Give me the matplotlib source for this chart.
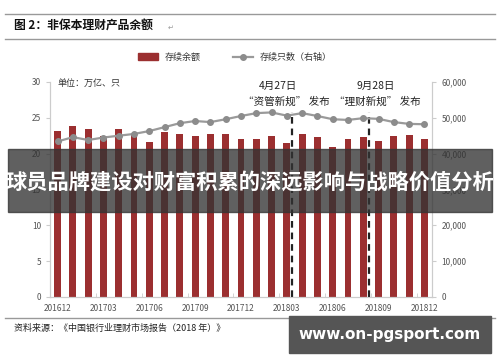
import matplotlib
matplotlib.use("Agg")
import matplotlib.pyplot as plt
from matplotlib.lines import Line2D
from matplotlib.patches import Rectangle, Patch
import numpy as np

plt.rcParams['font.family'] = ['Noto Sans CJK SC', 'DejaVu Sans']

# data
months = ['201612', '201701', '201702', '201703', '201704', '201705', '201706',
          '201707', '201708', '201709', '201710', '201711', '201712', '201801',
          '201802', '201803', '201804', '201805', '201806', '201807', '201808',
          '201809', '201810', '201811', '201812']
balance = [23.2, 23.8, 23.4, 22.4, 23.5, 22.7, 21.6, 23.0, 22.8, 22.4, 22.8, 22.7,
           22.1, 22.1, 22.5, 21.5, 22.8, 22.3, 20.9, 22.0, 22.3, 21.8, 22.4, 22.6, 22.1]
count = [43400, 44600, 43800, 44500, 45000, 45500, 46300, 47400, 48500, 49100,
         48800, 49600, 50500, 51300, 51500, 50600, 51300, 50500, 49600, 49400,
         49900, 49700, 48800, 48300, 48200]
tick_labels = ['201612', '201703', '201706', '201709', '201712',
               '201803', '201806', '201809', '201812']
events = [15.35, 20.4]
event_dates = ['4月27日', '9月28日']
event_names = ['“资管新规” 发布', '“理财新规” 发布']

bar_color = '#9b2f30'
line_color = '#9a9a9a'
grey_txt = '#555555'

fig = plt.figure(figsize=(5, 3.62), dpi=100)
ax = fig.add_axes([0.1, 0.1796, 0.764, 0.594])
ax2 = ax.twinx()

x = np.arange(len(months))
ax.bar(x, balance, width=0.45, color=bar_color, zorder=2)
ax2.plot(x, count, color=line_color, lw=1.6, marker='o', ms=4,
         mfc='#8c8c8c', mec='#8c8c8c', zorder=3)

for ex in events:
    ax.plot([ex, ex], [0, 25.8], color='#222222', lw=1.6, ls=(0, (3, 2.2)), zorder=4)

ax.set_xlim(-0.5, 24.5)
ax.set_ylim(0, 30)
ax2.set_ylim(0, 60000)
ax.set_yticks(range(0, 31, 5))
ax2.set_yticks(range(0, 60001, 10000))
ax2.set_yticklabels([f'{v:,}' for v in range(0, 60001, 10000)])
ax.set_xticks([months.index(t) for t in tick_labels])
ax.set_xticklabels(tick_labels)
ax.set_xticks(np.arange(-0.5, 25, 3), minor=True)

for a in (ax, ax2):
    a.spines['top'].set_visible(False)
    for s in ('left', 'right', 'bottom'):
        a.spines[s].set_color('#cccccc')
        a.spines[s].set_linewidth(0.8)
    a.tick_params(labelsize=6, colors='#cccccc', labelcolor=grey_txt, length=3, width=0.8)
ax.tick_params(axis='x', which='major', length=0, pad=5)
ax.tick_params(axis='x', which='minor', length=3, direction='in', colors='#cccccc')
ax2.tick_params(axis='y', pad=4)

ax.text(8 / 382, 0.995, '单位：万亿、只', transform=ax.transAxes, fontsize=6.5,
        color='#333333', va='center', ha='left')

# event labels
date_x = [14.4, 20.8]
name_x = [14.95, 20.95]
for d, n, dx, nx in zip(event_dates, event_names, date_x, name_x):
    ax.text(dx, 29.4, d, fontsize=7.5, ha='center', va='center', color='#222222')
    ax.text(nx, 27.3, n, fontsize=7.6, ha='center', va='center', color='#222222')

# legend
handles = [Patch(color=bar_color),
           Line2D([], [], color=line_color, lw=1.6, marker='o', ms=4,
                  mfc='#8c8c8c', mec='#8c8c8c')]
fig.legend(handles, ['存续余额', '存续只数（右轴）'], loc='center', ncol=2,
           bbox_to_anchor=(0.47, 0.842), frameon=False, fontsize=6.5,
           handlelength=2.2, columnspacing=3.5, labelcolor='#333333')

# page decorations
for yy in (1 - 14 / 362, 1 - 39 / 362, 1 - 318 / 362):
    fig.add_artist(Line2D([0.01, 0.99], [yy, yy], color='#999999', lw=1.0))
fig.text(0.028, 1 - 26 / 362, '图 2：非保本理财产品余额', fontsize=8.5, fontweight='bold',
         va='center', ha='left', color='#111111')
fig.text(0.335, 1 - 28 / 362, '↵', fontsize=5, va='center', ha='left', color='#999999',
         family='DejaVu Sans')
fig.text(0.028, 1 - 328 / 362, '资料来源：《中国银行业理财市场报告（2018 年）》', fontsize=6.5,
         va='center', ha='left', color='#222222')

# overlay band and watermark
fig.add_artist(Rectangle((8 / 500, 1 - 212 / 362), 484 / 500, 63 / 362,
                         transform=fig.transFigure, color='#333333', alpha=0.78, zorder=10))
fig.text(0.5, 1 - 182 / 362, '球员品牌建设对财富积累的深远影响与战略价值分析', fontsize=15.3,
         fontweight='bold', color='white', ha='center', va='center', zorder=11)
fig.add_artist(Rectangle((289 / 500, 1 - 353 / 362), 202 / 500, 37 / 362,
                         transform=fig.transFigure, color='#555555', zorder=10))
fig.text(390 / 500, 1 - 334 / 362, 'www.on-pgsport.com', fontsize=11, fontweight='bold',
         color='white', ha='center', va='center', zorder=11, family='DejaVu Sans')

fig.savefig('out.png', dpi=100)
